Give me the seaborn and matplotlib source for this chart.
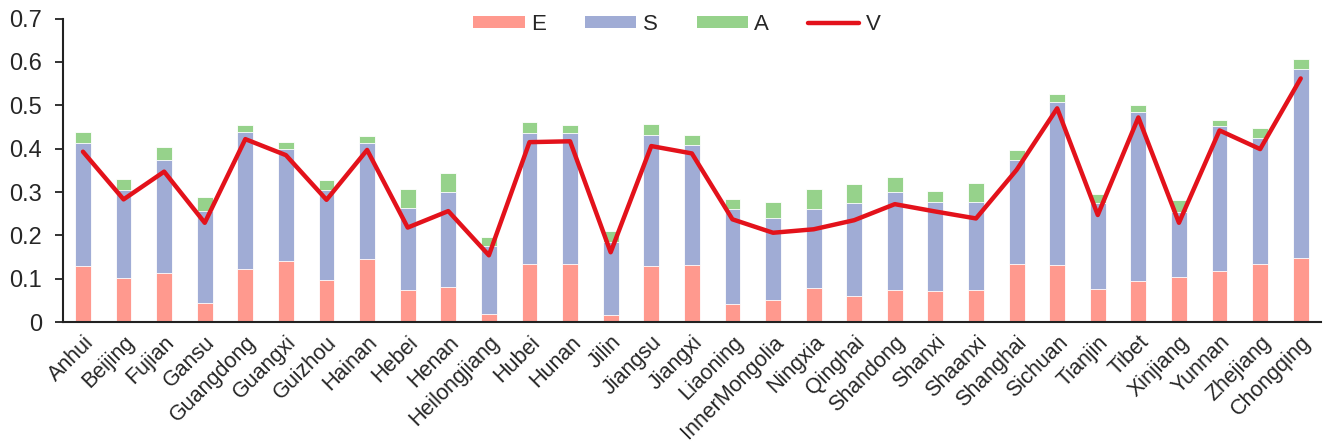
import numpy as np
import pandas as pd
import matplotlib
matplotlib.use("Agg")
import matplotlib.pyplot as plt
import matplotlib.transforms as mtransforms
from matplotlib.patches import Patch
from matplotlib.lines import Line2D
import seaborn as sns

provinces = ["Anhui", "Beijing", "Fujian", "Gansu", "Guangdong", "Guangxi", "Guizhou",
             "Hainan", "Hebei", "Henan", "Heilongjiang", "Hubei", "Hunan", "Jilin",
             "Jiangsu", "Jiangxi", "Liaoning", "InnerMongolia", "Ningxia", "Qinghai",
             "Shandong", "Shanxi", "Shaanxi", "Shanghai", "Sichuan", "Tianjin", "Tibet",
             "Xinjiang", "Yunnan", "Zhejiang", "Chongqing"]

E = [0.130, 0.102, 0.113, 0.043, 0.122, 0.140, 0.098, 0.145, 0.075, 0.082, 0.018,
     0.135, 0.135, 0.016, 0.130, 0.131, 0.041, 0.052, 0.078, 0.059, 0.075, 0.071,
     0.075, 0.134, 0.132, 0.076, 0.094, 0.105, 0.117, 0.135, 0.148]
S = [0.284, 0.203, 0.261, 0.214, 0.316, 0.259, 0.206, 0.267, 0.187, 0.217, 0.157,
     0.302, 0.300, 0.169, 0.302, 0.278, 0.220, 0.189, 0.182, 0.216, 0.226, 0.207,
     0.203, 0.240, 0.376, 0.199, 0.391, 0.149, 0.336, 0.289, 0.436]
A = [0.024, 0.025, 0.029, 0.031, 0.017, 0.016, 0.024, 0.018, 0.046, 0.044, 0.022,
     0.025, 0.020, 0.024, 0.026, 0.022, 0.024, 0.036, 0.048, 0.043, 0.033, 0.024,
     0.042, 0.023, 0.017, 0.021, 0.016, 0.028, 0.013, 0.024, 0.023]
V = [0.393, 0.283, 0.347, 0.229, 0.422, 0.385, 0.282, 0.397, 0.218, 0.256, 0.154,
     0.415, 0.417, 0.161, 0.406, 0.389, 0.237, 0.206, 0.214, 0.235, 0.272, 0.255,
     0.239, 0.351, 0.493, 0.247, 0.472, 0.229, 0.442, 0.399, 0.562]

y_ticks = [0, 0.1, 0.2, 0.3, 0.4, 0.5, 0.6, 0.7]
y_tick_labels = ["0", "0.1", "0.2", "0.3", "0.4", "0.5", "0.6", "0.7"]

c_e, c_s, c_a, c_v = "#FF998E", "#A0ACD5", "#96D28B", "#E3121B"

sns.set_style("white")
plt.rcParams["font.family"] = ["Liberation Sans", "DejaVu Sans"]

df = pd.DataFrame({"province": provinces, "E": E, "S": S, "A": A, "V": V})
df["ES"] = df["E"] + df["S"]
df["ESA"] = df["ES"] + df["A"]

fig = plt.figure(figsize=(13.25, 4.43), dpi=100)
ax = fig.add_axes([0.0473, 0.273, 0.9497, 0.685])

bar_kw = dict(width=0.39, edgecolor="white", linewidth=0.6, saturation=1, ax=ax)
# stacked layers: draw cumulative totals back to front
sns.barplot(data=df, x="province", y="ESA", color=c_a, **bar_kw)
sns.barplot(data=df, x="province", y="ES", color=c_s, **bar_kw)
sns.barplot(data=df, x="province", y="E", color=c_e, **bar_kw)

sns.lineplot(x=np.arange(len(provinces)), y=df["V"].values, color=c_v, lw=3.2,
             sort=False, ax=ax)

ax.set_xlim(-0.5, len(provinces) - 0.5)
ax.set_ylim(0, 0.7)
ax.set_yticks(y_ticks)
ax.set_yticklabels(y_tick_labels, fontsize=17)
ax.set_xticks(np.arange(len(provinces)))
ax.set_xticklabels(provinces, rotation=45, ha="right", rotation_mode="anchor",
                   fontsize=15.5)
# nudge the slanted category labels slightly left
shift = mtransforms.ScaledTranslation(-3 / 72, 0, fig.dpi_scale_trans)
for lbl in ax.get_xticklabels():
    lbl.set_transform(lbl.get_transform() + shift)
ax.set_xlabel("")
ax.set_ylabel("")

for side in ("top", "right"):
    ax.spines[side].set_visible(False)
for side in ("left", "bottom"):
    ax.spines[side].set_color("#222222")
    ax.spines[side].set_linewidth(1.5)
ax.tick_params(axis="y", direction="out", length=6, width=1.3, color="#222222",
               pad=9, left=True)
ax.tick_params(axis="x", length=0, pad=7)

handles = [Patch(facecolor=c_e, edgecolor="none"),
           Patch(facecolor=c_s, edgecolor="none"),
           Patch(facecolor=c_a, edgecolor="none"),
           Line2D([0], [0], color=c_v, lw=3.2)]
fig.legend(handles, ["E", "S", "A", "V"], loc="center",
           bbox_to_anchor=(0.511, 0.944), ncol=4, frameon=False, fontsize=16,
           handlelength=2.3, handleheight=0.45, handletextpad=0.3,
           columnspacing=1.75)

fig.savefig("out.png", dpi=100)
